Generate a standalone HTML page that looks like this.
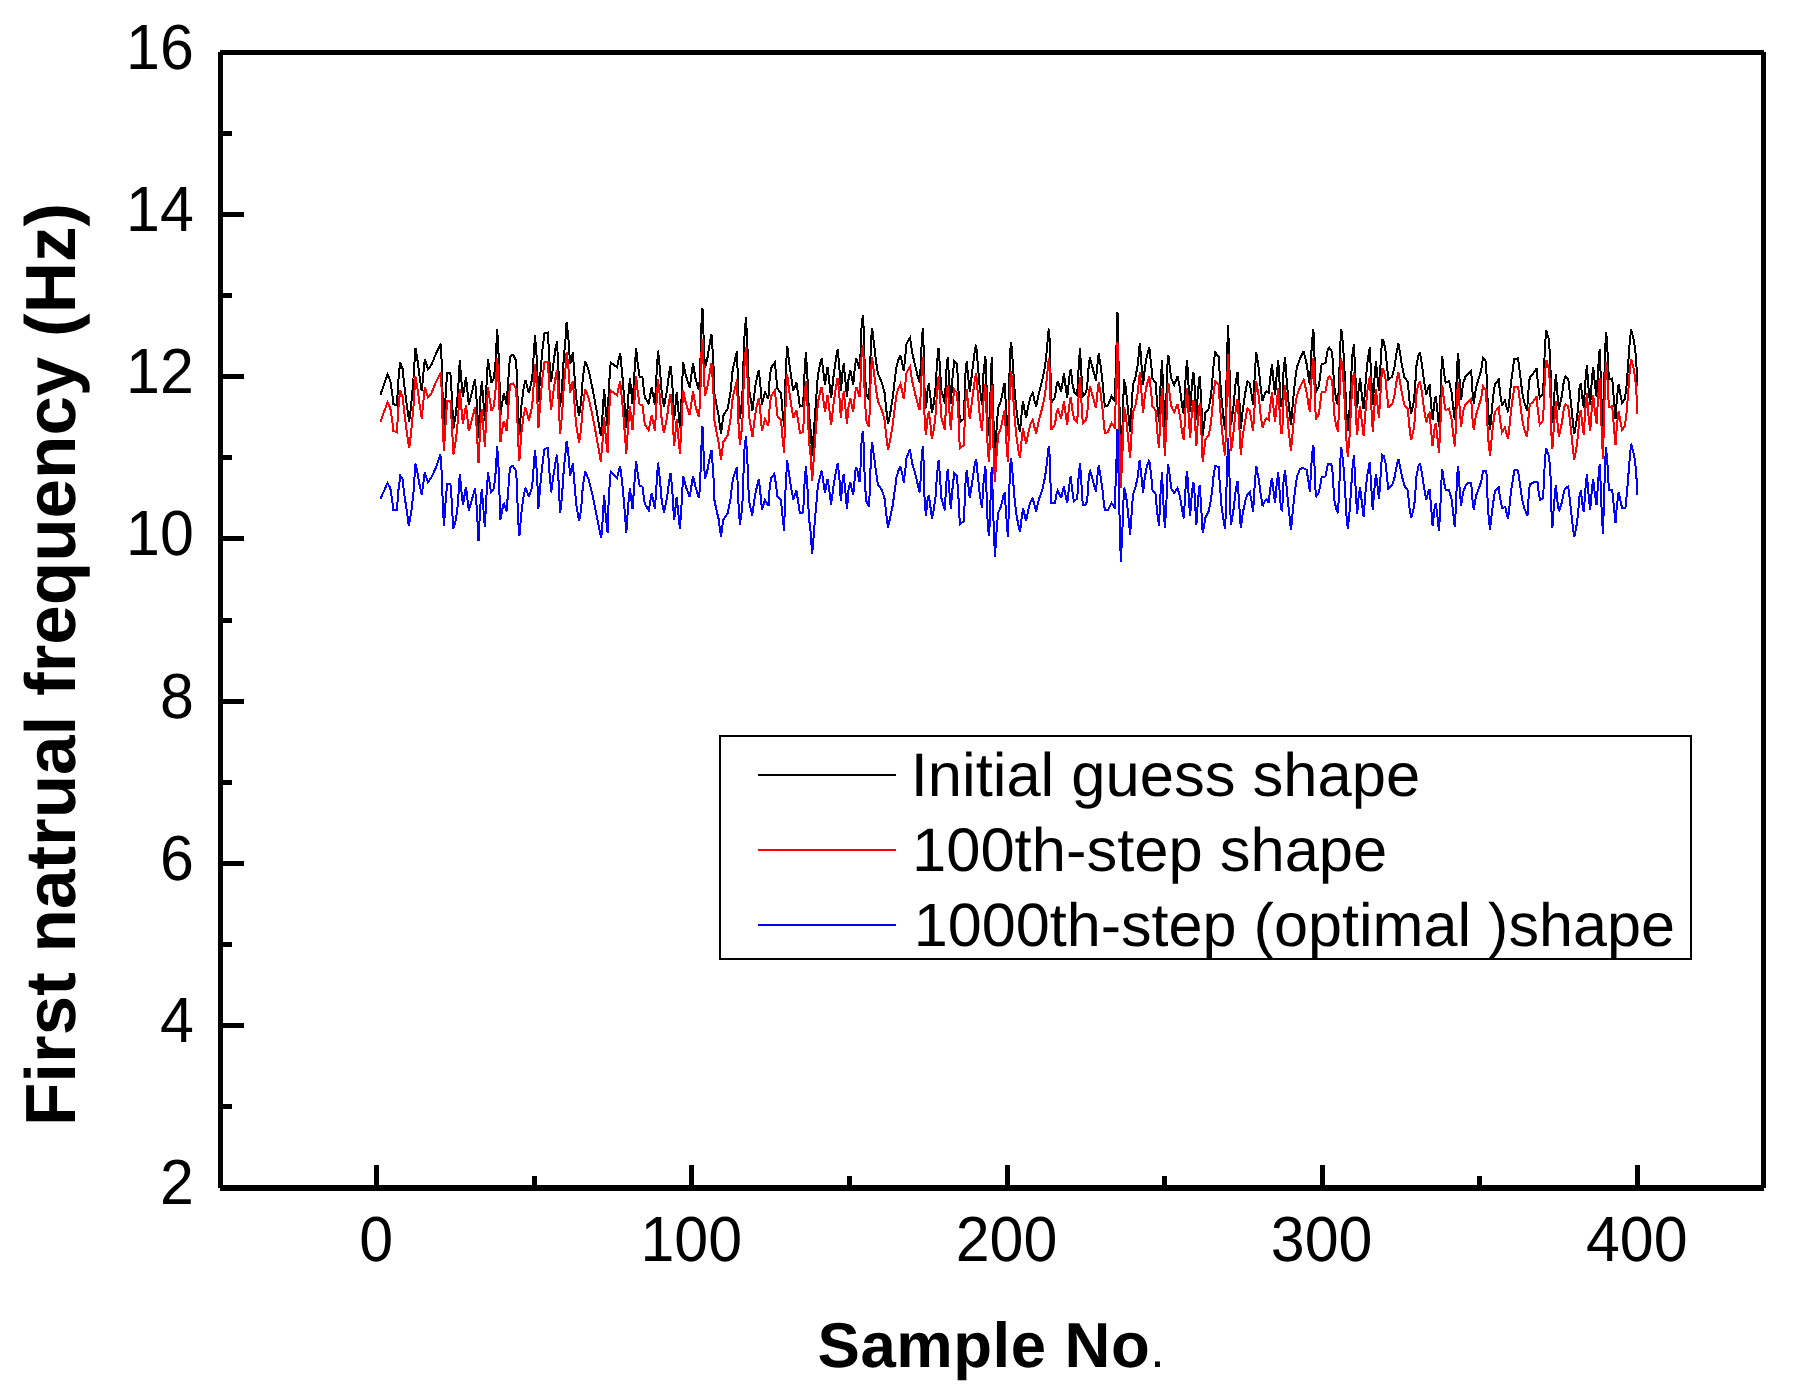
<!DOCTYPE html>
<html><head><meta charset="utf-8"><title>First natural frequency</title>
<style>
html,body{margin:0;padding:0;background:#fff;}
svg{display:block;}
text{font-family:"Liberation Sans",Arial,sans-serif;fill:#000;text-rendering:geometricPrecision;}
.tl{font-size:62.5px;}
.lg{font-size:61.5px;}
.b{font-weight:bold;}
</style></head><body>
<svg width="1798" height="1395" viewBox="0 0 1798 1395">
<rect width="1798" height="1395" fill="#fff"/>
<polyline points="380.4,394.7 387.5,374.6 390.3,380.5 392.2,393.2 393.4,404.0 396.9,405.5 398.4,380.5 400.1,362.4 402.6,368.7 404.0,382.4 406.4,402.0 409.2,422.1 411.1,406.0 413.5,378.5 415.4,347.7 417.3,358.9 419.2,373.6 421.7,391.3 424.8,358.9 427.9,369.2 431.5,364.8 436.2,353.1 440.9,343.8 441.9,368.7 442.5,391.3 443.9,424.6 445.6,396.2 447.1,372.6 450.4,372.6 451.8,396.2 453.4,428.5 456.0,412.8 457.9,393.2 459.8,360.4 461.2,378.5 462.9,397.1 466.0,377.5 468.8,404.5 472.1,391.3 475.0,379.5 476.8,403.0 478.5,437.8 480.2,400.1 481.8,381.5 483.5,403.0 484.9,421.1 486.3,388.3 488.0,358.9 489.6,370.7 491.5,382.9 493.9,378.5 495.8,358.9 497.2,328.6 498.8,358.9 500.5,415.3 501.9,404.0 503.8,393.7 506.6,404.5 508.5,377.5 509.9,357.0 511.4,355.2 513.2,355.0 516.1,360.9 517.0,378.5 518.0,412.8 519.4,434.8 521.3,406.9 523.6,388.3 525.5,380.0 528.9,393.2 532.2,378.5 533.6,357.0 535.0,334.9 537.0,360.9 538.4,401.5 540.3,374.6 542.2,351.1 544.5,333.0 547.9,332.5 549.3,358.9 551.2,382.0 553.1,365.8 555.4,349.1 557.0,341.3 558.4,368.7 560.1,406.9 562.0,388.3 563.9,356.0 565.3,342.3 566.6,322.2 568.2,335.4 570.1,364.3 572.9,352.1 574.3,373.6 576.2,398.1 579.1,416.2 581.0,403.0 582.8,378.5 585.2,360.9 588.5,369.7 592.3,387.3 596.1,407.9 600.8,435.8 602.7,412.8 604.1,389.3 606.0,412.8 607.6,426.5 608.8,388.3 610.7,362.4 616.9,367.3 620.2,353.1 622.6,378.5 624.4,401.1 626.3,427.5 628.2,398.1 629.9,378.5 632.5,403.5 634.4,373.6 636.1,347.7 637.7,363.8 639.6,376.6 642.4,377.5 644.8,397.1 648.6,403.5 651.7,387.3 654.9,404.5 656.6,373.6 658.0,350.6 659.9,368.7 661.8,394.2 664.0,406.4 667.0,390.3 668.9,374.6 670.6,365.8 672.2,381.5 674.1,420.2 676.7,392.2 679.9,427.5 681.6,397.1 683.1,361.9 685.9,375.6 689.7,387.8 693.0,363.3 695.5,378.5 698.8,389.8 700.2,373.6 700.7,349.1 701.6,319.8 702.5,308.5 703.5,334.4 704.9,367.8 707.3,358.9 709.6,344.2 711.5,334.4 712.9,354.0 713.9,373.6 714.4,393.2 716.7,406.0 718.6,415.7 721.0,433.9 723.3,415.7 727.6,408.9 730.4,393.2 732.8,368.7 735.2,358.9 737.1,351.1 738.0,388.3 739.9,418.7 742.3,398.1 743.2,368.7 744.6,334.4 746.0,316.8 747.5,349.1 748.9,388.3 752.5,410.4 755.0,388.3 756.9,377.5 758.8,369.7 760.7,388.3 761.9,404.5 765.0,391.7 768.3,399.1 769.7,378.5 771.1,367.8 774.9,362.4 776.3,376.6 777.2,388.3 781.0,393.2 782.4,409.9 784.1,427.0 785.1,388.3 786.2,363.8 787.2,345.7 789.5,364.8 791.4,378.5 793.3,390.8 796.4,382.4 798.5,396.2 799.9,406.4 803.2,405.5 804.2,378.5 805.9,352.1 807.5,378.5 808.9,412.8 810.8,432.4 812.2,455.9 814.1,427.5 816.0,401.1 817.9,374.6 820.3,362.9 821.7,358.4 823.6,373.6 825.0,384.4 827.6,366.8 829.7,385.4 831.1,398.1 833.5,376.6 835.9,358.9 837.6,349.1 839.2,364.8 840.9,390.8 842.5,372.6 843.7,363.3 845.8,384.4 847.0,397.1 848.6,378.5 850.3,369.7 853.2,384.9 854.9,366.8 856.3,358.4 857.7,362.9 859.6,369.2 860.5,354.0 861.0,336.4 862.0,319.8 863.2,315.3 864.3,354.0 865.3,378.5 866.2,393.2 869.1,400.1 870.3,363.8 870.9,341.3 872.1,328.1 874.3,346.2 876.1,361.9 878.0,373.6 881.8,382.4 884.7,393.2 886.1,407.9 888.0,424.1 890.3,412.8 892.7,398.1 894.6,381.5 896.5,366.8 898.4,359.9 900.4,355.5 902.2,362.9 903.8,371.2 905.5,354.0 906.4,344.2 908.3,340.3 910.0,337.9 912.1,352.1 914.9,364.8 917.8,376.6 919.6,382.4 920.8,364.8 921.5,347.2 922.8,328.1 923.9,354.0 924.7,398.1 926.1,408.4 927.2,393.2 928.8,383.4 930.5,398.1 931.9,412.8 933.8,403.0 935.5,388.3 937.1,361.9 938.6,347.7 940.0,368.7 941.4,390.3 944.9,403.5 946.1,373.6 947.7,357.0 949.4,383.4 950.8,403.5 952.3,380.5 954.2,361.4 957.0,364.3 958.4,388.3 959.8,422.1 964.1,418.7 965.0,378.5 966.7,361.4 968.3,378.5 969.8,391.7 972.6,368.7 975.0,349.1 976.2,344.7 977.8,364.8 979.7,387.3 982.0,404.5 983.5,373.6 985.4,356.0 986.8,393.2 987.7,422.6 989.1,436.3 990.4,398.1 991.0,368.7 992.0,357.0 992.9,403.0 994.3,445.1 995.0,456.9 996.2,434.4 998.1,407.9 1001.0,401.1 1003.3,388.3 1004.7,382.9 1006.2,412.8 1007.9,436.3 1009.0,398.1 1009.9,354.0 1011.2,341.8 1012.9,363.8 1014.3,386.4 1016.2,407.9 1018.1,422.6 1020.0,431.9 1021.4,415.7 1023.0,401.1 1024.7,410.9 1026.1,417.7 1028.9,403.0 1030.8,396.2 1032.7,392.7 1034.6,401.1 1036.2,406.9 1038.9,393.2 1042.2,380.5 1045.0,366.8 1046.9,349.1 1048.3,332.5 1049.1,328.6 1050.2,354.0 1050.7,383.4 1051.2,403.0 1053.1,400.1 1055.0,397.1 1056.4,386.4 1057.8,381.0 1061.1,391.7 1063.9,373.6 1067.2,398.1 1069.1,378.5 1070.8,368.7 1072.4,383.4 1074.3,392.2 1077.2,395.2 1078.6,368.7 1080.0,348.2 1081.4,373.6 1082.8,396.2 1085.2,394.2 1087.1,388.3 1088.5,368.7 1089.9,357.5 1092.8,368.7 1095.9,380.5 1097.5,363.8 1098.7,353.5 1100.8,366.8 1102.7,383.4 1104.1,400.1 1105.1,406.4 1107.9,405.5 1111.5,396.2 1115.0,401.5 1115.5,378.5 1116.4,349.1 1117.5,311.9 1119.2,393.2 1120.2,437.3 1120.9,462.8 1122.6,422.6 1124.0,379.5 1125.9,388.3 1127.8,407.9 1130.1,432.4 1131.5,407.9 1133.0,384.4 1135.3,378.5 1137.7,364.8 1139.9,342.8 1141.5,364.8 1143.1,385.4 1144.8,368.7 1146.7,357.0 1149.3,347.2 1151.4,366.8 1152.3,378.5 1155.6,382.9 1157.1,403.0 1159.0,422.1 1160.4,388.3 1162.0,359.9 1163.2,393.2 1164.9,430.4 1166.5,393.2 1167.3,366.8 1168.4,355.0 1169.9,368.7 1171.3,378.5 1174.2,384.9 1177.5,376.1 1179.9,388.3 1182.2,406.0 1183.8,413.8 1185.1,388.3 1186.0,370.7 1187.1,359.9 1188.4,383.4 1190.1,411.8 1191.7,388.3 1193.1,372.6 1194.0,374.6 1195.2,398.1 1196.4,420.2 1197.8,393.2 1199.7,375.6 1201.1,398.1 1202.7,436.3 1205.4,412.8 1208.7,408.9 1211.1,395.2 1212.5,378.5 1213.9,360.9 1215.3,352.6 1218.6,356.5 1220.0,378.5 1221.5,398.1 1223.4,417.7 1225.0,429.5 1226.2,398.1 1226.7,368.7 1227.6,339.3 1228.1,324.7 1229.5,368.7 1230.0,398.1 1231.1,425.1 1233.3,407.9 1235.6,383.4 1237.5,371.7 1239.0,393.2 1240.8,429.0 1242.7,409.9 1246.0,388.3 1247.5,381.0 1249.8,383.4 1251.7,395.2 1253.1,404.5 1254.6,378.5 1256.2,352.1 1258.8,368.7 1260.7,388.3 1262.6,401.1 1265.0,393.2 1266.8,391.3 1268.7,392.7 1270.2,378.5 1272.0,364.3 1273.5,380.5 1275.1,395.2 1276.8,373.6 1278.2,359.9 1279.6,383.4 1281.0,406.0 1282.2,406.4 1283.4,373.6 1285.0,357.0 1286.7,380.5 1288.6,403.0 1291.0,425.1 1293.3,398.1 1295.2,378.5 1297.1,366.8 1299.9,358.9 1303.7,351.1 1306.6,363.8 1308.4,376.6 1309.9,384.9 1311.3,354.0 1312.2,339.3 1313.4,329.1 1314.6,358.9 1315.8,392.2 1318.9,386.4 1321.7,363.8 1325.5,363.3 1327.9,349.1 1329.3,347.7 1332.2,352.1 1333.1,368.7 1334.5,388.3 1336.4,400.1 1338.0,405.0 1339.3,373.6 1340.2,347.2 1341.2,328.6 1343.1,345.2 1344.9,378.5 1346.4,412.8 1347.8,430.9 1349.7,407.9 1351.1,378.5 1352.5,354.0 1353.9,343.8 1355.3,373.6 1356.3,395.2 1357.2,408.4 1358.7,388.3 1360.1,378.5 1362.0,396.2 1363.6,409.4 1365.3,386.4 1367.2,363.8 1369.8,347.2 1371.0,373.6 1372.8,405.0 1374.3,380.5 1375.9,361.4 1377.6,378.5 1379.0,390.8 1380.4,366.8 1381.4,349.1 1382.3,338.9 1383.7,341.3 1385.6,351.1 1387.0,366.8 1388.4,379.5 1392.2,376.6 1394.6,366.8 1396.5,353.1 1398.4,343.3 1400.3,355.0 1402.2,366.8 1404.5,377.5 1407.8,381.5 1409.2,398.1 1411.1,413.8 1413.5,403.0 1414.9,391.3 1416.3,366.8 1418.2,356.0 1419.9,352.6 1422.0,364.8 1423.9,380.5 1426.3,395.2 1428.2,387.3 1429.6,385.4 1431.0,403.0 1432.6,420.2 1434.3,403.0 1435.7,395.7 1437.3,409.9 1439.0,427.0 1440.4,398.1 1441.4,370.7 1442.3,356.5 1444.2,374.6 1445.6,382.4 1449.0,381.0 1451.8,393.2 1453.2,407.9 1454.8,420.2 1456.0,398.1 1457.0,366.8 1458.2,353.1 1459.5,378.5 1461.1,400.1 1463.1,383.4 1465.5,376.6 1468.3,373.6 1471.2,370.7 1472.6,393.2 1473.8,403.5 1475.9,388.3 1478.7,378.5 1481.1,370.7 1483.0,358.0 1485.5,360.9 1486.9,378.5 1487.8,407.9 1490.0,430.0 1491.6,412.8 1493.0,398.1 1494.9,384.4 1498.7,379.5 1500.1,393.2 1502.0,405.5 1504.8,400.6 1508.1,412.3 1509.6,398.1 1511.0,383.4 1512.9,368.7 1514.3,358.9 1518.1,358.4 1520.0,373.6 1522.3,393.2 1524.7,404.0 1527.1,410.4 1529.0,383.4 1529.9,376.6 1532.7,374.6 1536.5,368.2 1537.9,383.4 1539.8,397.6 1543.1,393.2 1544.1,368.7 1545.0,344.2 1546.3,330.5 1548.8,339.3 1550.2,358.9 1550.9,383.4 1551.6,412.8 1552.4,423.1 1554.0,398.1 1555.9,373.6 1557.3,393.2 1558.9,409.9 1562.0,395.2 1563.9,380.5 1565.4,376.6 1568.2,378.5 1569.6,390.3 1571.5,407.9 1572.9,422.6 1574.3,433.9 1576.7,419.7 1578.1,407.9 1579.5,388.3 1580.8,382.9 1582.4,398.1 1583.8,407.9 1585.2,383.4 1586.9,364.8 1588.5,388.3 1590.2,404.5 1591.8,380.5 1593.2,366.8 1594.9,384.4 1596.6,396.6 1598.0,370.7 1599.7,349.1 1600.8,378.5 1601.8,407.9 1603.0,432.9 1604.1,388.3 1605.1,349.1 1606.3,332.5 1607.4,349.1 1608.4,370.7 1609.3,379.5 1612.2,378.5 1613.6,396.2 1615.5,419.2 1616.9,398.1 1618.6,383.9 1620.2,393.2 1622.1,403.0 1624.9,399.1 1626.8,383.4 1628.2,363.8 1629.6,344.2 1631.1,329.5 1633.0,336.4 1634.9,347.2 1636.3,360.9 1637.2,386.4" fill="none" stroke="#000" stroke-width="2" stroke-linejoin="miter" stroke-miterlimit="3" shape-rendering="crispEdges"/>
<polyline points="380.4,421.8 387.5,402.4 390.3,408.1 392.2,420.4 393.4,430.8 396.9,432.2 398.4,408.1 400.1,390.6 402.6,396.7 404.0,410.0 406.4,428.9 409.2,448.3 411.1,432.7 413.5,406.2 415.4,376.4 417.3,387.3 419.2,401.5 421.7,418.5 424.8,387.3 427.9,397.2 431.5,393.0 436.2,381.6 440.9,372.6 441.9,396.7 442.5,418.5 443.9,450.6 445.6,423.2 447.1,400.5 450.4,400.5 451.8,423.2 453.4,454.4 456.0,439.3 457.9,420.4 459.8,388.7 461.2,406.2 462.9,424.2 466.0,405.2 468.8,431.2 472.1,418.5 475.0,407.1 476.8,429.8 478.5,463.4 480.2,427.0 481.8,409.0 483.5,429.8 484.9,447.3 486.3,415.6 488.0,387.3 489.6,398.6 491.5,410.4 493.9,406.2 495.8,387.3 497.2,358.0 498.8,387.3 500.5,441.6 501.9,430.8 503.8,420.8 506.6,431.2 508.5,405.2 509.9,385.4 511.4,383.7 513.2,383.5 516.1,389.2 517.0,406.2 518.0,439.3 519.4,460.6 521.3,433.6 523.6,415.6 525.5,407.6 528.9,420.4 532.2,406.2 533.6,385.4 535.0,364.1 537.0,389.2 538.4,428.4 540.3,402.4 542.2,379.7 544.5,362.2 547.9,361.7 549.3,387.3 551.2,409.5 553.1,393.9 555.4,377.8 557.0,370.3 558.4,396.7 560.1,433.6 562.0,415.6 563.9,384.4 565.3,371.2 566.6,351.8 568.2,364.6 570.1,392.5 572.9,380.7 574.3,401.5 576.2,425.1 579.1,442.6 581.0,429.8 582.8,406.2 585.2,389.2 588.5,397.7 592.3,414.7 596.1,434.6 600.8,461.5 602.7,439.3 604.1,416.6 606.0,439.3 607.6,452.5 608.8,415.6 610.7,390.6 616.9,395.3 620.2,381.6 622.6,406.2 624.4,427.9 626.3,453.5 628.2,425.1 629.9,406.2 632.5,430.3 634.4,401.5 636.1,376.4 637.7,392.0 639.6,404.3 642.4,405.2 644.8,424.2 648.6,430.3 651.7,414.7 654.9,431.2 656.6,401.5 658.0,379.2 659.9,396.7 661.8,421.3 664.0,433.1 667.0,417.5 668.9,402.4 670.6,393.9 672.2,409.0 674.1,446.4 676.7,419.4 679.9,453.5 681.6,424.2 683.1,390.1 685.9,403.4 689.7,415.2 693.0,391.5 695.5,406.2 698.8,417.1 700.2,401.5 700.7,377.8 701.6,349.5 702.5,338.6 703.5,363.6 704.9,395.8 707.3,387.3 709.6,373.1 711.5,363.6 712.9,382.5 713.9,401.5 714.4,420.4 716.7,432.7 718.6,442.1 721.0,459.6 723.3,442.1 727.6,435.5 730.4,420.4 732.8,396.7 735.2,387.3 737.1,379.7 738.0,415.6 739.9,445.0 742.3,425.1 743.2,396.7 744.6,363.6 746.0,346.6 747.5,377.8 748.9,415.6 752.5,436.9 755.0,415.6 756.9,405.2 758.8,397.7 760.7,415.6 761.9,431.2 765.0,419.0 768.3,426.0 769.7,406.2 771.1,395.8 774.9,390.6 776.3,404.3 777.2,415.6 781.0,420.4 782.4,436.4 784.1,453.0 785.1,415.6 786.2,392.0 787.2,374.5 789.5,393.0 791.4,406.2 793.3,418.0 796.4,410.0 798.5,423.2 799.9,433.1 803.2,432.2 804.2,406.2 805.9,380.7 807.5,406.2 808.9,439.3 810.8,458.2 812.2,480.9 814.1,453.5 816.0,427.9 817.9,402.4 820.3,391.1 821.7,386.8 823.6,401.5 825.0,411.9 827.6,394.8 829.7,412.8 831.1,425.1 833.5,404.3 835.9,387.3 837.6,377.8 839.2,393.0 840.9,418.0 842.5,400.5 843.7,391.5 845.8,411.9 847.0,424.2 848.6,406.2 850.3,397.7 853.2,412.3 854.9,394.8 856.3,386.8 857.7,391.1 859.6,397.2 860.5,382.5 861.0,365.5 862.0,349.5 863.2,345.2 864.3,382.5 865.3,406.2 866.2,420.4 869.1,427.0 870.3,392.0 870.9,370.3 872.1,357.5 874.3,375.0 876.1,390.1 878.0,401.5 881.8,410.0 884.7,420.4 886.1,434.6 888.0,450.2 890.3,439.3 892.7,425.1 894.6,409.0 896.5,394.8 898.4,388.2 900.4,384.0 902.2,391.1 903.8,399.1 905.5,382.5 906.4,373.1 908.3,369.3 910.0,366.9 912.1,380.7 914.9,393.0 917.8,404.3 919.6,410.0 920.8,393.0 921.5,375.9 922.8,357.5 923.9,382.5 924.7,425.1 926.1,435.0 927.2,420.4 928.8,410.9 930.5,425.1 931.9,439.3 933.8,429.8 935.5,415.6 937.1,390.1 938.6,376.4 940.0,396.7 941.4,417.5 944.9,430.3 946.1,401.5 947.7,385.4 949.4,410.9 950.8,430.3 952.3,408.1 954.2,389.6 957.0,392.5 958.4,415.6 959.8,448.3 964.1,445.0 965.0,406.2 966.7,389.6 968.3,406.2 969.8,419.0 972.6,396.7 975.0,377.8 976.2,373.6 977.8,393.0 979.7,414.7 982.0,431.2 983.5,401.5 985.4,384.4 986.8,420.4 987.7,448.7 989.1,462.0 990.4,425.1 991.0,396.7 992.0,385.4 992.9,429.8 994.3,470.5 995.0,481.8 996.2,460.1 998.1,434.6 1001.0,427.9 1003.3,415.6 1004.7,410.4 1006.2,439.3 1007.9,462.0 1009.0,425.1 1009.9,382.5 1011.2,370.7 1012.9,392.0 1014.3,413.8 1016.2,434.6 1018.1,448.7 1020.0,457.7 1021.4,442.1 1023.0,427.9 1024.7,437.4 1026.1,444.0 1028.9,429.8 1030.8,423.2 1032.7,419.9 1034.6,427.9 1036.2,433.6 1038.9,420.4 1042.2,408.1 1045.0,394.8 1046.9,377.8 1048.3,361.7 1049.1,358.0 1050.2,382.5 1050.7,410.9 1051.2,429.8 1053.1,427.0 1055.0,424.2 1056.4,413.8 1057.8,408.6 1061.1,419.0 1063.9,401.5 1067.2,425.1 1069.1,406.2 1070.8,396.7 1072.4,410.9 1074.3,419.4 1077.2,422.3 1078.6,396.7 1080.0,376.9 1081.4,401.5 1082.8,423.2 1085.2,421.3 1087.1,415.6 1088.5,396.7 1089.9,385.9 1092.8,396.7 1095.9,408.1 1097.5,392.0 1098.7,382.1 1100.8,394.8 1102.7,410.9 1104.1,427.0 1105.1,433.1 1107.9,432.2 1111.5,423.2 1115.0,428.4 1115.5,406.2 1116.4,377.8 1117.5,341.9 1119.2,420.4 1120.2,462.9 1120.9,487.5 1122.6,448.7 1124.0,407.1 1125.9,415.6 1127.8,434.6 1130.1,458.2 1131.5,434.6 1133.0,411.9 1135.3,406.2 1137.7,393.0 1139.9,371.7 1141.5,393.0 1143.1,412.8 1144.8,396.7 1146.7,385.4 1149.3,375.9 1151.4,394.8 1152.3,406.2 1155.6,410.4 1157.1,429.8 1159.0,448.3 1160.4,415.6 1162.0,388.2 1163.2,420.4 1164.9,456.3 1166.5,420.4 1167.3,394.8 1168.4,383.5 1169.9,396.7 1171.3,406.2 1174.2,412.3 1177.5,403.8 1179.9,415.6 1182.2,432.7 1183.8,440.2 1185.1,415.6 1186.0,398.6 1187.1,388.2 1188.4,410.9 1190.1,438.3 1191.7,415.6 1193.1,400.5 1194.0,402.4 1195.2,425.1 1196.4,446.4 1197.8,420.4 1199.7,403.4 1201.1,425.1 1202.7,462.0 1205.4,439.3 1208.7,435.5 1211.1,422.3 1212.5,406.2 1213.9,389.2 1215.3,381.1 1218.6,384.9 1220.0,406.2 1221.5,425.1 1223.4,444.0 1225.0,455.4 1226.2,425.1 1226.7,396.7 1227.6,368.4 1228.1,354.2 1229.5,396.7 1230.0,425.1 1231.1,451.1 1233.3,434.6 1235.6,410.9 1237.5,399.6 1239.0,420.4 1240.8,454.9 1242.7,436.4 1246.0,415.6 1247.5,408.6 1249.8,410.9 1251.7,422.3 1253.1,431.2 1254.6,406.2 1256.2,380.7 1258.8,396.7 1260.7,415.6 1262.6,427.9 1265.0,420.4 1266.8,418.5 1268.7,419.9 1270.2,406.2 1272.0,392.5 1273.5,408.1 1275.1,422.3 1276.8,401.5 1278.2,388.2 1279.6,410.9 1281.0,432.7 1282.2,433.1 1283.4,401.5 1285.0,385.4 1286.7,408.1 1288.6,429.8 1291.0,451.1 1293.3,425.1 1295.2,406.2 1297.1,394.8 1299.9,387.3 1303.7,379.7 1306.6,392.0 1308.4,404.3 1309.9,412.3 1311.3,382.5 1312.2,368.4 1313.4,358.4 1314.6,387.3 1315.8,419.4 1318.9,413.8 1321.7,392.0 1325.5,391.5 1327.9,377.8 1329.3,376.4 1332.2,380.7 1333.1,396.7 1334.5,415.6 1336.4,427.0 1338.0,431.7 1339.3,401.5 1340.2,375.9 1341.2,358.0 1343.1,374.0 1344.9,406.2 1346.4,439.3 1347.8,456.8 1349.7,434.6 1351.1,406.2 1352.5,382.5 1353.9,372.6 1355.3,401.5 1356.3,422.3 1357.2,435.0 1358.7,415.6 1360.1,406.2 1362.0,423.2 1363.6,436.0 1365.3,413.8 1367.2,392.0 1369.8,375.9 1371.0,401.5 1372.8,431.7 1374.3,408.1 1375.9,389.6 1377.6,406.2 1379.0,418.0 1380.4,394.8 1381.4,377.8 1382.3,367.9 1383.7,370.3 1385.6,379.7 1387.0,394.8 1388.4,407.1 1392.2,404.3 1394.6,394.8 1396.5,381.6 1398.4,372.1 1400.3,383.5 1402.2,394.8 1404.5,405.2 1407.8,409.0 1409.2,425.1 1411.1,440.2 1413.5,429.8 1414.9,418.5 1416.3,394.8 1418.2,384.4 1419.9,381.1 1422.0,393.0 1423.9,408.1 1426.3,422.3 1428.2,414.7 1429.6,412.8 1431.0,429.8 1432.6,446.4 1434.3,429.8 1435.7,422.7 1437.3,436.4 1439.0,453.0 1440.4,425.1 1441.4,398.6 1442.3,384.9 1444.2,402.4 1445.6,410.0 1449.0,408.6 1451.8,420.4 1453.2,434.6 1454.8,446.4 1456.0,425.1 1457.0,394.8 1458.2,381.6 1459.5,406.2 1461.1,427.0 1463.1,410.9 1465.5,404.3 1468.3,401.5 1471.2,398.6 1472.6,420.4 1473.8,430.3 1475.9,415.6 1478.7,406.2 1481.1,398.6 1483.0,386.3 1485.5,389.2 1486.9,406.2 1487.8,434.6 1490.0,455.8 1491.6,439.3 1493.0,425.1 1494.9,411.9 1498.7,407.1 1500.1,420.4 1502.0,432.2 1504.8,427.5 1508.1,438.8 1509.6,425.1 1511.0,410.9 1512.9,396.7 1514.3,387.3 1518.1,386.8 1520.0,401.5 1522.3,420.4 1524.7,430.8 1527.1,436.9 1529.0,410.9 1529.9,404.3 1532.7,402.4 1536.5,396.3 1537.9,410.9 1539.8,424.6 1543.1,420.4 1544.1,396.7 1545.0,373.1 1546.3,359.9 1548.8,368.4 1550.2,387.3 1550.9,410.9 1551.6,439.3 1552.4,449.2 1554.0,425.1 1555.9,401.5 1557.3,420.4 1558.9,436.4 1562.0,422.3 1563.9,408.1 1565.4,404.3 1568.2,406.2 1569.6,417.5 1571.5,434.6 1572.9,448.7 1574.3,459.6 1576.7,445.9 1578.1,434.6 1579.5,415.6 1580.8,410.4 1582.4,425.1 1583.8,434.6 1585.2,410.9 1586.9,393.0 1588.5,415.6 1590.2,431.2 1591.8,408.1 1593.2,394.8 1594.9,411.9 1596.6,423.7 1598.0,398.6 1599.7,377.8 1600.8,406.2 1601.8,434.6 1603.0,458.7 1604.1,415.6 1605.1,377.8 1606.3,361.7 1607.4,377.8 1608.4,398.6 1609.3,407.1 1612.2,406.2 1613.6,423.2 1615.5,445.4 1616.9,425.1 1618.6,411.4 1620.2,420.4 1622.1,429.8 1624.9,426.0 1626.8,410.9 1628.2,392.0 1629.6,373.1 1631.1,358.9 1633.0,365.5 1634.9,375.9 1636.3,389.2 1637.2,413.8" fill="none" stroke="#f00" stroke-width="2" stroke-linejoin="miter" stroke-miterlimit="3" shape-rendering="crispEdges"/>
<polyline points="380.4,499.0 387.5,483.0 390.3,488.2 392.2,500.0 393.4,510.4 396.9,510.4 398.4,490.5 400.3,475.9 402.6,479.2 404.0,492.4 406.4,508.5 408.8,525.5 411.1,513.2 413.5,492.4 415.4,463.6 417.3,471.6 419.2,483.0 421.7,495.2 424.8,472.5 427.9,482.0 431.5,477.3 436.2,466.9 440.4,454.6 441.9,475.4 442.5,496.2 443.9,526.4 445.6,501.9 447.1,483.9 450.4,483.9 451.8,501.9 453.2,529.3 456.0,518.9 457.9,503.8 459.8,474.0 461.2,488.6 462.9,505.2 466.0,486.7 468.8,510.4 472.1,499.0 475.0,488.6 476.8,508.5 478.5,541.1 480.2,507.5 481.8,489.1 483.5,510.4 484.9,527.4 486.3,498.1 488.0,472.5 489.6,483.0 491.0,491.9 493.9,488.6 495.8,470.7 497.2,446.5 498.8,471.6 500.3,520.3 501.9,511.3 503.8,502.8 506.6,511.3 508.5,486.7 509.9,467.8 511.4,466.4 513.2,466.4 516.1,470.7 517.0,486.7 518.0,517.9 519.4,536.4 521.3,513.2 523.6,496.2 525.5,487.7 528.9,497.1 532.2,486.7 533.6,467.8 535.0,450.3 537.0,473.5 538.4,508.5 540.3,484.8 542.2,465.9 544.5,448.9 547.9,448.0 549.3,470.7 551.2,492.4 553.1,477.3 555.4,463.1 557.0,454.6 558.4,478.2 560.1,513.2 562.0,496.2 563.9,467.8 565.3,455.5 566.6,440.9 568.2,451.7 570.1,475.4 572.9,463.6 574.3,482.0 576.2,503.8 579.1,521.2 581.0,510.4 582.8,486.7 585.2,471.6 588.5,479.2 592.3,494.3 596.1,513.2 601.3,538.3 602.7,519.8 604.1,494.8 606.0,518.9 607.6,532.6 608.8,496.2 610.7,471.6 616.9,478.2 620.2,465.9 622.6,486.7 624.4,507.5 626.3,532.6 628.2,505.6 629.9,487.7 632.5,509.0 634.4,483.9 636.1,460.7 637.7,473.5 639.6,485.8 642.4,486.7 644.8,503.8 648.8,510.4 651.7,492.9 654.9,508.5 656.6,483.9 658.0,462.6 659.9,479.2 661.8,501.9 664.0,512.3 667.0,498.1 668.9,483.0 670.6,473.0 672.2,488.6 674.1,520.3 676.7,496.7 679.9,529.3 681.6,503.8 683.1,475.9 685.9,486.7 689.7,497.1 693.0,475.9 695.5,486.7 698.8,498.1 700.2,486.7 700.7,464.0 701.6,443.2 702.5,426.2 703.5,450.8 704.9,479.2 707.3,470.7 709.6,458.4 711.5,449.9 712.9,467.8 713.9,483.9 714.4,500.0 716.7,511.3 718.6,518.9 721.0,536.4 723.3,519.8 727.6,513.2 730.4,500.0 732.8,479.2 735.2,471.6 737.1,467.3 738.0,496.2 739.9,524.6 742.3,507.5 743.2,481.1 744.6,447.0 746.0,435.7 747.5,464.0 748.9,500.0 752.2,515.6 755.0,495.2 756.9,486.7 758.8,479.2 760.7,496.2 761.9,509.4 765.0,500.0 768.5,506.1 769.7,486.7 771.1,478.2 774.4,474.0 776.3,486.7 777.2,496.2 781.0,500.4 782.4,515.1 784.1,530.7 785.1,497.6 786.2,477.3 787.2,460.3 789.5,477.3 791.4,489.6 793.3,499.5 796.4,490.5 798.5,503.8 799.9,513.2 803.2,512.3 804.2,488.6 805.9,466.4 807.5,488.6 808.9,517.0 810.8,534.0 812.2,554.3 814.1,530.2 816.0,507.5 817.9,485.8 820.3,475.4 821.7,470.7 823.6,483.9 825.0,492.4 827.6,478.7 829.7,493.4 831.1,504.7 833.5,485.8 835.9,471.6 837.6,463.6 839.2,475.4 840.9,501.4 842.5,482.0 843.7,474.4 845.8,496.2 847.0,509.4 848.6,488.6 850.3,482.5 853.2,495.2 854.9,476.3 855.8,467.3 857.2,469.7 859.6,482.0 860.5,467.8 861.0,451.7 862.0,434.7 863.2,431.4 864.3,467.8 865.3,488.6 866.2,500.9 869.1,507.1 870.3,475.4 870.9,455.5 872.1,442.3 874.3,458.4 876.1,472.5 878.0,484.8 881.8,489.6 884.7,499.0 886.1,513.2 888.0,527.4 890.3,517.0 892.7,505.6 894.6,491.5 896.5,477.3 898.4,470.7 900.3,466.4 902.2,473.5 903.8,482.5 905.5,467.8 906.4,458.4 908.3,453.6 910.0,449.4 912.1,463.1 914.9,472.5 917.8,484.8 919.6,492.4 920.8,477.3 921.5,461.2 922.8,445.6 923.9,467.8 924.7,505.6 926.1,515.6 927.2,501.9 928.8,494.8 930.5,507.5 931.9,518.4 933.8,509.4 935.5,497.1 937.1,473.5 938.6,459.8 940.0,477.3 941.4,498.1 944.9,510.4 946.1,484.8 947.7,468.8 949.4,491.5 950.8,508.5 952.3,490.5 954.2,473.5 957.0,476.3 958.4,496.2 959.8,524.1 964.1,520.8 965.0,488.6 966.7,469.7 968.3,484.8 969.8,498.1 972.6,479.2 975.0,463.1 976.2,458.8 977.8,475.4 979.7,494.3 982.0,507.5 983.5,483.0 985.4,465.9 986.8,498.1 987.7,524.6 989.1,536.4 990.4,505.6 991.0,477.3 992.0,467.3 992.9,505.6 994.3,541.6 995.0,557.2 996.2,535.9 998.1,513.2 1001.0,506.6 1003.3,496.2 1004.7,492.4 1006.2,515.1 1007.9,537.3 1009.0,505.6 1009.9,467.8 1011.2,458.4 1012.9,477.3 1014.3,496.2 1016.2,513.2 1018.1,523.6 1020.0,532.1 1021.4,519.8 1023.0,508.5 1024.7,515.1 1026.1,521.2 1028.9,507.5 1030.8,500.9 1032.7,498.6 1034.6,505.6 1036.2,511.3 1038.9,499.0 1042.2,490.5 1045.0,477.3 1046.9,463.1 1048.3,448.9 1049.1,446.5 1050.2,467.8 1050.7,491.5 1051.2,502.8 1055.0,502.8 1056.4,494.3 1057.8,490.5 1061.1,498.1 1063.9,486.7 1067.2,503.3 1069.1,486.7 1070.6,475.9 1072.4,491.5 1073.9,501.4 1077.2,498.6 1078.6,477.3 1080.0,462.6 1081.4,483.0 1082.8,505.2 1085.2,504.7 1087.1,501.9 1088.5,481.1 1089.9,469.7 1092.8,480.1 1095.9,491.5 1097.5,475.4 1098.7,465.0 1100.8,477.3 1102.7,491.5 1104.1,505.6 1105.1,510.4 1107.9,510.4 1111.5,502.8 1115.0,508.5 1115.5,486.7 1116.4,463.1 1117.5,429.5 1119.2,501.9 1120.2,541.6 1120.9,562.0 1122.6,524.6 1124.0,487.7 1125.9,494.3 1127.8,510.4 1130.1,534.5 1131.5,515.1 1133.0,494.3 1135.3,487.7 1137.7,477.3 1139.6,459.8 1141.5,477.3 1143.1,492.4 1144.8,477.3 1146.7,466.9 1149.3,459.8 1151.4,477.3 1152.3,489.6 1155.6,494.3 1157.1,511.3 1159.0,525.5 1160.4,496.2 1162.0,472.5 1163.2,500.0 1164.9,528.3 1166.5,500.0 1167.3,477.3 1168.2,464.5 1169.9,477.3 1171.3,488.6 1174.2,492.9 1177.5,488.2 1179.9,496.2 1182.2,510.4 1183.8,518.4 1185.1,496.2 1186.0,481.1 1187.1,470.7 1188.4,491.5 1190.1,516.0 1191.7,496.2 1193.1,482.5 1194.0,483.9 1195.2,505.6 1196.4,525.0 1197.8,501.9 1199.7,484.8 1201.1,505.6 1202.7,533.1 1205.4,517.9 1208.7,511.3 1211.1,499.0 1212.5,486.7 1213.9,472.5 1215.3,465.9 1218.6,466.9 1220.0,486.7 1221.5,505.6 1223.4,519.8 1225.0,529.3 1226.2,505.6 1226.7,477.3 1227.6,453.6 1228.1,437.6 1229.5,477.3 1230.0,505.6 1231.1,524.6 1233.3,511.3 1235.6,491.5 1237.5,481.1 1239.0,500.9 1240.8,528.3 1242.7,513.2 1246.0,498.1 1247.5,494.3 1249.8,491.9 1251.7,501.9 1253.1,512.3 1254.6,486.7 1256.2,465.9 1258.8,479.2 1260.7,494.3 1262.6,506.1 1265.0,500.9 1266.8,499.5 1268.7,502.8 1270.2,488.6 1272.0,477.7 1273.5,490.5 1275.1,503.3 1276.8,483.0 1278.2,472.5 1279.6,491.5 1281.0,509.4 1282.2,510.4 1283.4,483.0 1285.0,469.7 1286.7,488.6 1288.6,507.5 1291.0,530.2 1293.3,505.6 1295.2,489.6 1297.1,476.3 1299.9,469.2 1302.8,467.8 1306.6,469.7 1308.4,481.1 1309.9,491.5 1311.3,465.9 1312.2,453.6 1313.4,444.7 1314.6,467.8 1315.8,497.1 1318.9,492.4 1321.7,477.3 1325.5,476.3 1327.9,464.0 1330.8,463.6 1332.2,466.9 1333.1,482.0 1334.5,500.9 1336.4,509.4 1338.0,513.2 1339.3,486.7 1340.2,463.1 1341.2,447.0 1343.1,461.2 1344.9,486.7 1346.4,515.1 1347.8,528.8 1349.7,510.4 1351.1,488.6 1352.5,467.8 1353.9,455.5 1355.3,482.0 1356.3,500.9 1357.2,513.7 1358.7,496.2 1360.1,487.2 1362.0,503.8 1363.6,517.0 1365.3,494.3 1367.2,475.4 1369.8,462.1 1371.0,483.0 1372.7,510.4 1374.3,490.5 1375.9,474.0 1377.6,486.7 1379.0,499.0 1380.4,479.2 1381.4,463.1 1382.3,455.1 1383.7,456.0 1385.6,463.1 1387.0,477.3 1388.4,489.1 1392.2,484.8 1394.6,477.3 1396.5,466.9 1398.4,458.8 1400.3,467.8 1402.2,477.3 1404.5,485.8 1407.8,490.5 1409.2,505.6 1411.1,517.9 1413.5,509.4 1414.9,500.0 1416.3,477.3 1418.2,466.9 1419.9,463.1 1422.0,473.5 1423.9,486.7 1426.3,500.0 1428.2,492.4 1429.6,489.1 1431.0,505.6 1432.6,526.0 1434.3,510.4 1435.7,502.8 1437.3,515.1 1439.0,531.2 1440.4,505.6 1441.4,482.0 1442.1,468.8 1444.2,483.0 1445.6,489.6 1449.0,490.0 1451.8,500.0 1453.2,513.2 1454.8,526.9 1456.0,505.6 1457.0,477.3 1458.2,465.9 1459.5,486.7 1461.1,506.1 1463.1,492.4 1465.5,485.8 1468.3,483.0 1471.2,483.0 1472.6,500.9 1473.8,509.9 1475.9,496.2 1478.7,488.6 1481.1,482.0 1483.0,471.1 1486.4,471.1 1487.3,494.3 1488.3,513.2 1490.0,530.2 1491.6,515.1 1493.0,503.8 1494.9,491.5 1498.7,487.7 1500.1,498.1 1502.0,508.0 1505.3,507.1 1508.0,518.9 1509.6,505.6 1511.0,491.5 1512.9,479.2 1514.3,470.7 1515.7,469.7 1518.1,470.7 1520.0,484.8 1522.3,500.0 1524.7,509.4 1527.5,515.6 1529.0,491.5 1529.9,484.4 1534.6,482.0 1537.5,482.0 1538.9,494.3 1540.3,500.0 1543.1,498.1 1544.1,477.3 1545.0,458.4 1546.3,448.4 1548.8,455.5 1550.2,467.8 1550.9,486.7 1551.6,515.1 1552.4,527.9 1554.0,503.8 1555.9,484.8 1557.3,500.9 1558.9,511.3 1562.0,501.9 1563.9,491.5 1565.8,487.7 1568.2,486.7 1569.6,498.1 1571.5,515.1 1572.9,527.4 1574.3,537.3 1576.7,524.6 1578.1,513.2 1579.5,496.2 1580.8,490.5 1582.4,503.8 1583.8,512.3 1585.2,491.5 1586.9,474.4 1588.5,494.3 1590.2,509.9 1591.8,490.5 1593.2,478.7 1594.9,494.3 1596.6,505.2 1598.0,483.0 1599.7,463.6 1600.8,486.7 1601.8,515.1 1603.0,534.0 1604.1,496.2 1605.1,463.1 1606.0,447.5 1607.4,463.1 1608.4,482.0 1609.3,489.6 1612.2,489.6 1613.6,503.8 1615.5,523.1 1616.9,505.6 1618.6,491.9 1620.2,500.0 1622.1,508.0 1625.4,508.0 1626.8,494.3 1628.2,477.3 1629.6,460.3 1631.1,443.7 1633.0,450.8 1634.9,460.3 1636.3,473.5 1637.2,495.2" fill="none" stroke="#00f" stroke-width="2" stroke-linejoin="miter" stroke-miterlimit="3" shape-rendering="crispEdges"/>
<path d="M220,50H1764V55H220ZM220,1185H1764V1191H220ZM218,52H223V1188H218ZM1761,52H1766V1188H1761ZM223,1104H232V1109H223ZM223,1023H244V1028H223ZM223,942H232V947H223ZM223,861H244V866H223ZM223,780H232V785H223ZM223,699H244V704H223ZM223,618H232V623H223ZM223,536H244V541H223ZM223,455H232V460H223ZM223,374H244V379H223ZM223,293H232V298H223ZM223,212H244V217H223ZM223,131H232V136H223ZM374,1165H379V1185H374ZM532,1176H537V1185H532ZM689,1165H694V1185H689ZM847,1176H852V1185H847ZM1005,1165H1010V1185H1005ZM1162,1176H1167V1185H1162ZM1320,1165H1325V1185H1320ZM1477,1176H1482V1185H1477ZM1635,1165H1640V1185H1635Z" fill="#000" shape-rendering="crispEdges"/>
<text class="tl" transform="translate(193.8,1204.2) scale(0.975,1.022)" text-anchor="end">2</text>
<text class="tl" transform="translate(193.8,1042.0) scale(0.975,1.022)" text-anchor="end">4</text>
<text class="tl" transform="translate(193.8,879.8) scale(0.975,1.022)" text-anchor="end">6</text>
<text class="tl" transform="translate(193.8,717.6) scale(0.975,1.022)" text-anchor="end">8</text>
<text class="tl" transform="translate(193.8,555.3) scale(0.975,1.022)" text-anchor="end">10</text>
<text class="tl" transform="translate(193.8,393.1) scale(0.975,1.022)" text-anchor="end">12</text>
<text class="tl" transform="translate(193.8,230.9) scale(0.975,1.022)" text-anchor="end">14</text>
<text class="tl" transform="translate(193.8,68.7) scale(0.975,1.022)" text-anchor="end">16</text>
<text class="tl" transform="translate(376.1,1260.5) scale(0.975,1.022)" text-anchor="middle">0</text>
<text class="tl" transform="translate(691.3,1260.5) scale(0.975,1.022)" text-anchor="middle">100</text>
<text class="tl" transform="translate(1006.5,1260.5) scale(0.975,1.022)" text-anchor="middle">200</text>
<text class="tl" transform="translate(1321.6,1260.5) scale(0.975,1.022)" text-anchor="middle">300</text>
<text class="tl" transform="translate(1636.8,1260.5) scale(0.975,1.022)" text-anchor="middle">400</text>
<text y="1366.9"><tspan class="b" font-size="63.5" letter-spacing="0.5" x="817.6">Sample No</tspan><tspan font-size="52" letter-spacing="0" x="1150.2">.</tspan></text>
<text class="b" font-size="71" transform="translate(75,1126) rotate(-90)">First natrual frequency (Hz)</text>
<rect x="720" y="736" width="971" height="223" fill="#fff" stroke="#000" stroke-width="2" shape-rendering="crispEdges"/>
<path d="M758,775H896" stroke="#000" stroke-width="2" shape-rendering="crispEdges"/>
<path d="M758,850H896" stroke="#f00" stroke-width="2" shape-rendering="crispEdges"/>
<path d="M758,925H896" stroke="#00f" stroke-width="2" shape-rendering="crispEdges"/>
<text class="lg" x="910.7" y="796.2">Initial guess shape</text>
<text class="lg" x="912" y="871.1">100th-step shape</text>
<text class="lg" x="913.7" y="946.1" style="font-size:61.15px">1000th-step (optimal )shape</text>
</svg></body></html>
